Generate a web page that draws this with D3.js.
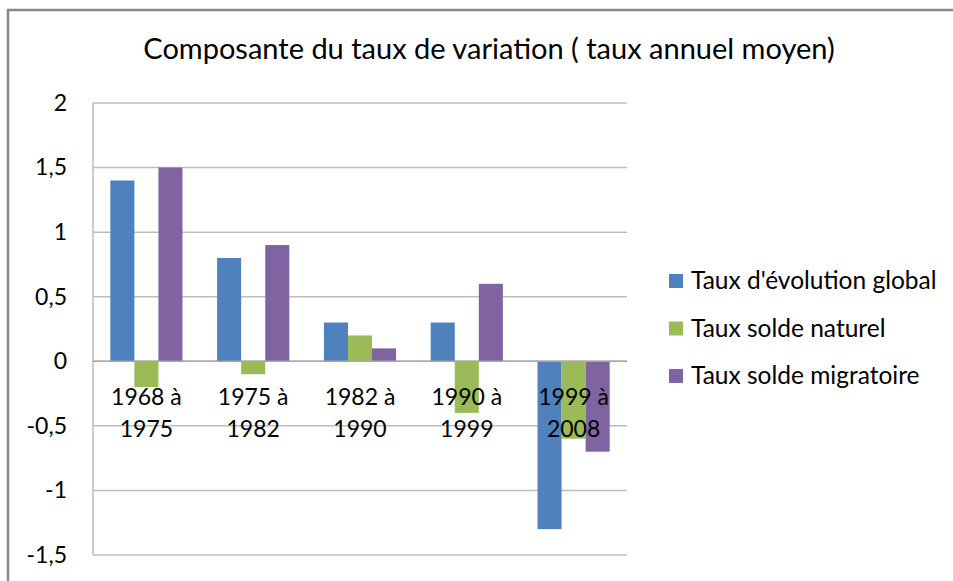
<!DOCTYPE html>
<html>
<head>
<meta charset="utf-8">
<script src="https://cdn.jsdelivr.net/npm/d3@7"></script>
<style>
  body { margin: 0; background: #fff; }
  text { font-family: Lato, "Open Sans", sans-serif; fill: #000; }
</style>
</head>
<body>
<svg id="chart" width="953" height="581"></svg>
<script>
var categories = ["1968 à 1975", "1975 à 1982", "1982 à 1990", "1990 à 1999", "1999 à 2008"];
var seriesNames = ["Taux d'évolution global", "Taux solde naturel", "Taux solde migratoire"];
var evolution = [1.4, 0.8, 0.3, 0.3, -1.3];
var naturel = [-0.2, -0.1, 0.2, -0.4, -0.6];
var migratoire = [1.5, 0.9, 0.1, 0.6, -0.7];
var yTicks = [-1.5, -1, -0.5, 0, 0.5, 1, 1.5, 2];
var colors = ["#4f81bd", "#9bbb59", "#8064a2"];

function init() {
  var svg = d3.select("#chart");
  var values = [evolution, naturel, migratoire];

  svg.append("rect")
    .attr("width", 953).attr("height", 581).attr("fill", "#fff");

  // outer chart border (only top and left visible)
  svg.append("rect")
    .attr("x", 8).attr("y", 10)
    .attr("width", 1000).attr("height", 700)
    .attr("fill", "none")
    .attr("stroke", "#868686")
    .attr("stroke-width", 2.5);

  svg.append("text")
    .attr("x", 489).attr("y", 59)
    .attr("text-anchor", "middle")
    .style("font-size", "29px")
    .text("Composante du taux de variation ( taux annuel moyen)");

  var left = 93, right = 627;
  var y = d3.scaleLinear().domain([-1.5, 2]).range([555, 103]);
  var x0 = d3.scaleBand().domain(categories).range([left, right]);
  var x1 = d3.scaleBand().domain(d3.range(3)).range([0, x0.bandwidth()]).paddingOuter(0.72);

  // gridlines
  svg.append("g").selectAll("line")
    .data(yTicks)
    .enter().append("line")
    .attr("x1", left).attr("x2", right)
    .attr("y1", function (d) { return y(d); })
    .attr("y2", function (d) { return y(d); })
    .attr("stroke", "#bdbdbd")
    .attr("stroke-width", 1.5);

  // y axis
  var yAxis = d3.axisLeft(y).tickValues(yTicks).tickSize(0).tickPadding(0)
    .tickFormat(function (d) { return String(d).replace(".", ","); });
  var ya = svg.append("g")
    .attr("transform", "translate(" + 67 + ",0)")
    .call(yAxis);
  ya.select(".domain").remove();
  ya.selectAll("text")
    .style("font-size", "23px")
    .style("font-family", "Lato, 'Open Sans', sans-serif")
    .attr("fill", "#000");

  svg.append("line")
    .attr("x1", left).attr("x2", left)
    .attr("y1", y(2)).attr("y2", y(-1.5))
    .attr("stroke", "#bdbdbd")
    .attr("stroke-width", 1.5);

  // bars
  var groups = svg.append("g").selectAll("g")
    .data(categories)
    .enter().append("g")
    .attr("transform", function (d) { return "translate(" + x0(d) + ",0)"; });

  groups.selectAll("rect")
    .data(function (d, i) { return values.map(function (v, s) { return { s: s, v: v[i] }; }); })
    .enter().append("rect")
    .attr("x", function (d) { return x1(d.s); })
    .attr("width", x1.bandwidth())
    .attr("y", function (d) { return y(Math.max(0, d.v)); })
    .attr("height", function (d) { return Math.abs(y(d.v) - y(0)); })
    .attr("fill", function (d) { return colors[d.s]; });

  // zero line
  svg.append("line")
    .attr("x1", left).attr("x2", right)
    .attr("y1", y(0)).attr("y2", y(0))
    .attr("stroke", "#a6a6a6")
    .attr("stroke-width", 1.5);

  // category labels
  var labels = svg.append("g").selectAll("text")
    .data(categories)
    .enter().append("text")
    .attr("text-anchor", "middle")
    .style("font-size", "23px");
  labels.append("tspan")
    .attr("x", function (d) { return x0(d) + x0.bandwidth() / 2; })
    .attr("y", 405)
    .text(function (d) { return d.split(" à ")[0] + " à"; });
  labels.append("tspan")
    .attr("x", function (d) { return x0(d) + x0.bandwidth() / 2; })
    .attr("y", 436.5)
    .text(function (d) { return d.split(" à ")[1]; });

  // legend
  var legend = svg.append("g").selectAll("g")
    .data(seriesNames)
    .enter().append("g")
    .attr("transform", function (d, i) { return "translate(669," + (289 + i * 47.5) + ")"; });
  legend.append("rect")
    .attr("x", 0).attr("y", -15)
    .attr("width", 14).attr("height", 14)
    .attr("fill", function (d, i) { return colors[i]; });
  legend.append("text")
    .attr("x", 22).attr("y", 0)
    .style("font-size", "24.5px")
    .text(function (d) { return d; });
}

window.addEventListener("DOMContentLoaded", init);
</script>
</body>
</html>
